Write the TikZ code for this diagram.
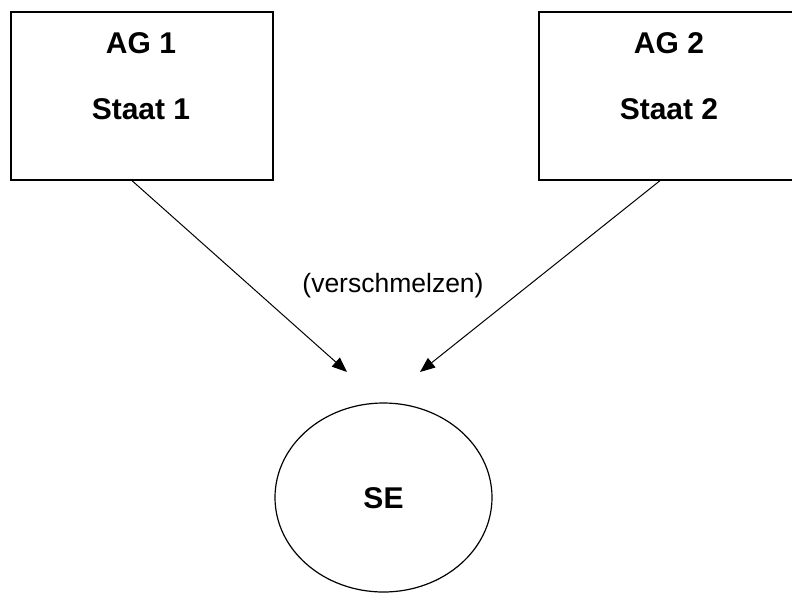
\documentclass[tikz,border=0pt]{standalone}
\usepackage{fontspec}
\setmainfont{Liberation Sans}
\usetikzlibrary{arrows.meta,shapes.geometric}
\begin{document}
\begin{tikzpicture}[x=1pt,y=-1pt,
  company/.style={draw,line width=1.3pt,rectangle,minimum width=262pt,minimum height=168pt,inner sep=0pt},
  company name/.style={font=\fontsize{30}{36}\selectfont\bfseries,anchor=base,inner sep=0pt},
  result/.style={draw,line width=1.2pt,ellipse,minimum width=217pt,minimum height=189pt,inner sep=0pt},
  merge/.style={draw,line width=1pt,-{Triangle[length=15pt,width=12pt]}},
  note/.style={font=\fontsize{26.5}{32}\selectfont,anchor=base,inner sep=0pt}]
  \clip (0,0) rectangle (792,592);
  % the two stock corporations
  \node[company] (ag1) at (142,96) {};
  \node[company name] (ag1title) at (141,53) {AG 1};
  \node[company name] (ag1state) at (141,119) {Staat 1};
  \node[company] (ag2) at (670,96) {};
  \node[company name] (ag2title) at (669,53) {AG 2};
  \node[company name] (ag2state) at (669,119) {Staat 2};
  % the resulting Societas Europaea
  \node[result] (se) at (383.5,497.5) {};
  \node[company name] (setitle) at (383.5,508) {SE};
  % merger arrows
  \coordinate (tipL) at (347,372);
  \coordinate (tipR) at (420,372);
  \draw[merge] ([xshift=-10pt]ag1.south) -- (tipL);
  \draw[merge] ([xshift=-10pt]ag2.south) -- (tipR);
  \node[note] (merge label) at (393,292) {(verschmelzen)};
\end{tikzpicture}
\end{document}
